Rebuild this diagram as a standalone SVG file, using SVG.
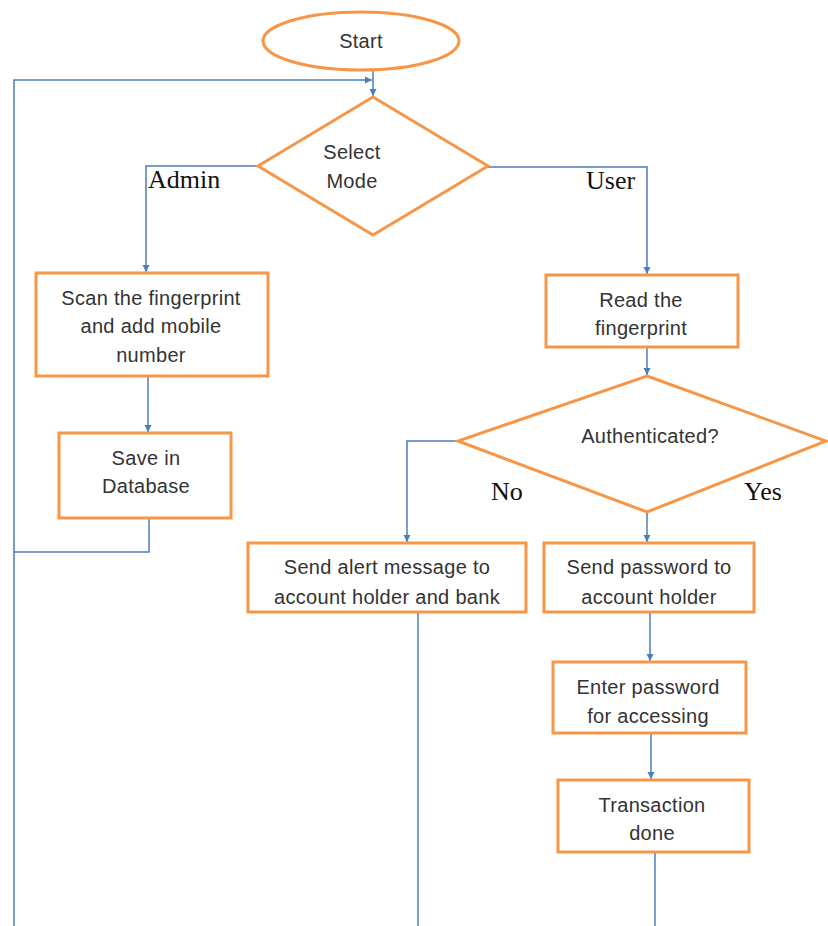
<svg xmlns="http://www.w3.org/2000/svg" width="828" height="926" viewBox="0 0 828 926">
<style>
.shape{fill:#fff;stroke:#F79646;stroke-width:3}
.t{font-family:"Liberation Sans",Arial,sans-serif;font-size:20px;fill:#333;text-anchor:middle;letter-spacing:0.3px}
.lbl{font-family:"Liberation Serif","Times New Roman",serif;font-size:26px;fill:#111}
.c{fill:none;stroke:#4A7EBB;stroke-width:1.5}
</style>
<defs>
<marker id="arr" markerWidth="8" markerHeight="8" refX="7" refY="4" orient="auto" markerUnits="userSpaceOnUse">
<path d="M0,0.5 L7,4 L0,7.5 Z" fill="#4A7EBB"/>
</marker>
</defs>
<rect width="828" height="926" fill="#fff"/>
<g id="connectors">
<path class="c" d="M373,70 V96" marker-end="url(#arr)"/>
<path class="c" d="M14,926 V80 H372" marker-end="url(#arr)"/>
<path class="c" d="M258,166 H146 V272" marker-end="url(#arr)"/>
<path class="c" d="M488,167 H647 V274" marker-end="url(#arr)"/>
<path class="c" d="M148,376 V432" marker-end="url(#arr)"/>
<path class="c" d="M149,518 V552 H14"/>
<path class="c" d="M647,347 V375" marker-end="url(#arr)"/>
<path class="c" d="M458,441 H407 V542" marker-end="url(#arr)"/>
<path class="c" d="M647,512 V542" marker-end="url(#arr)"/>
<path class="c" d="M418,612 V926"/>
<path class="c" d="M650,612 V661" marker-end="url(#arr)"/>
<path class="c" d="M651,733 V779" marker-end="url(#arr)"/>
<path class="c" d="M655,852 V926"/>
</g>
<g id="start">
<ellipse class="shape" cx="361" cy="41" rx="98" ry="29"/>
<text class="t" x="361" y="48">Start</text>
</g>
<g id="select-mode">
<polygon class="shape" points="373,97 488,166 373,235 258,166"/>
<text class="t" x="352" y="159">Select</text>
<text class="t" x="352" y="188">Mode</text>
</g>
<text class="lbl" x="148" y="188">Admin</text>
<text class="lbl" x="586" y="189">User</text>
<g id="scan">
<rect class="shape" x="36" y="273" width="232" height="103"/>
<text class="t" x="151" y="305">Scan the fingerprint</text>
<text class="t" x="151" y="333">and add mobile</text>
<text class="t" x="151" y="362">number</text>
</g>
<g id="save">
<rect class="shape" x="59" y="433" width="172" height="85"/>
<text class="t" x="146" y="465">Save in</text>
<text class="t" x="146" y="493">Database</text>
</g>
<g id="read">
<rect class="shape" x="546" y="275" width="192" height="72"/>
<text class="t" x="641" y="307">Read the</text>
<text class="t" x="641" y="335">fingerprint</text>
</g>
<g id="authenticated">
<polygon class="shape" points="647,376 826,441 647,512 458,441"/>
<text class="t" x="650" y="443">Authenticated?</text>
</g>
<text class="lbl" x="491" y="500">No</text>
<text class="lbl" x="744" y="500">Yes</text>
<g id="alert">
<rect class="shape" x="248" y="543" width="278" height="69"/>
<text class="t" x="387" y="574">Send alert message to</text>
<text class="t" x="387" y="604">account holder and bank</text>
</g>
<g id="send-password">
<rect class="shape" x="544" y="543" width="210" height="69"/>
<text class="t" x="649" y="574">Send password to</text>
<text class="t" x="649" y="604">account holder</text>
</g>
<g id="enter-password">
<rect class="shape" x="553" y="662" width="193" height="71"/>
<text class="t" x="648" y="694">Enter password</text>
<text class="t" x="648" y="723">for accessing</text>
</g>
<g id="transaction">
<rect class="shape" x="558" y="780" width="191" height="72"/>
<text class="t" x="652" y="812">Transaction</text>
<text class="t" x="652" y="840">done</text>
</g>
</svg>
